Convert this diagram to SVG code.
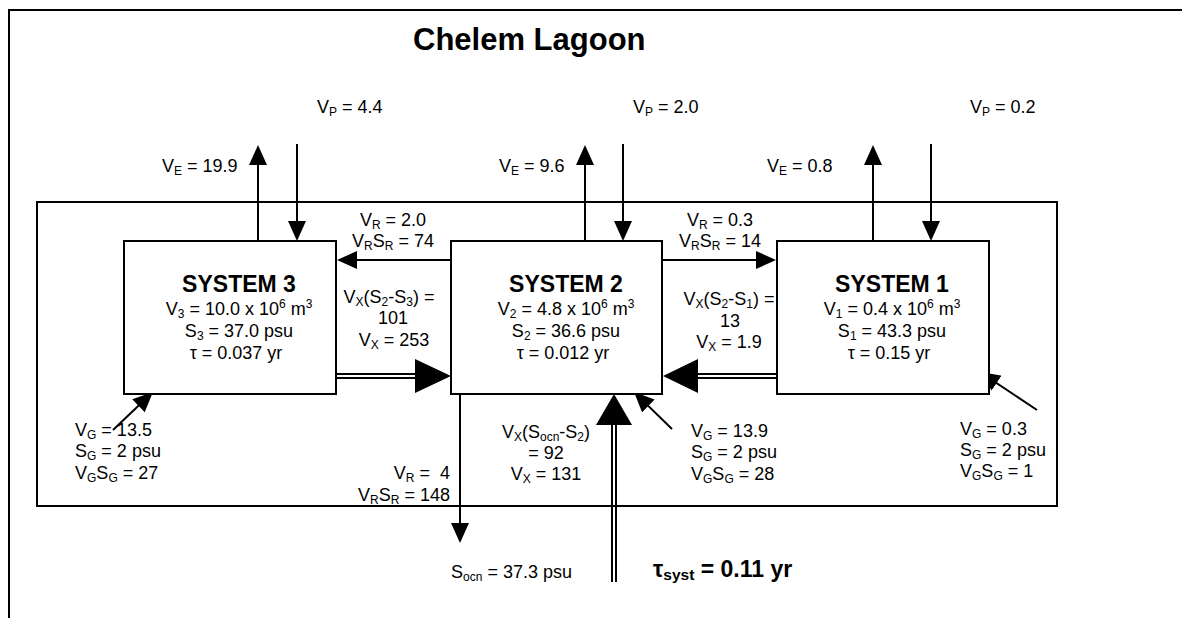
<svg xmlns="http://www.w3.org/2000/svg" width="1182" height="618" viewBox="0 0 1182 618">
<style>
text{font-family:"Liberation Sans",Arial,sans-serif;font-size:18px;fill:#000}
.t{font-size:31px;font-weight:bold}
.h{font-size:23px;font-weight:bold}
.s{font-size:12px}
.m{text-anchor:middle}
.e{text-anchor:end}
.box{fill:#fff;stroke:#000;stroke-width:2}
.fr{fill:none;stroke:#000;stroke-width:2}
.ar{fill:none;stroke:#000;stroke-width:2;marker-end:url(#ah)}
.dl{fill:none;stroke:#000;stroke-width:2}
.hd{fill:#000;stroke:none}
</style>
<defs>
<marker id="ah" viewBox="0 0 20 18" refX="17" refY="9" markerWidth="20" markerHeight="18" markerUnits="userSpaceOnUse" orient="auto"><path d="M0,0 L20,9 L0,18z" fill="#000"/></marker>
<clipPath id="cb"><rect x="0" y="0" width="1182" height="582"/></clipPath>
</defs>
<rect width="1182" height="618" fill="#fff"/>
<g id="frame">
<path class="fr" d="M9,618 V10 H1182"/>
</g>
<g id="title"><text class="t" x="413" y="50">Chelem Lagoon</text></g>
<g id="lagoon"><rect class="box" x="37" y="202" width="1020" height="304"/></g>
<g id="connectors">
<path class="ar" d="M258,241 V148"/>
<path class="ar" d="M297,144 V238"/>
<path class="ar" d="M585,241 V148"/>
<path class="ar" d="M623,144 V238"/>
<path class="ar" d="M873,241 V148"/>
<path class="ar" d="M931,144 V238"/>
<path class="ar" d="M451,260 H340"/>
<path class="ar" d="M662,260 H773"/>
<path class="ar" d="M460,394 V540"/>
<path class="ar" d="M113,430 L150.8,394.1"/>
<path class="ar" d="M672,429 L636.2,394.1"/>
<path class="ar" d="M1037,410 L982.5,373.7"/>
<path class="dl" d="M337,374 H416 M337,378 H416"/>
<polygon class="hd" points="415,359 451,376 415,393"/>
<path class="dl" d="M777,374 H697 M777,378 H697"/>
<polygon class="hd" points="698,359 663,376 698,393"/>
<path class="dl" d="M612,582 V424 M616,582 V424"/>
<polygon class="hd" points="596,425 614,394 632,425"/>
</g>
<g id="sys3">
<rect class="box" x="124" y="241" width="212" height="153"/>
<text class="h m" x="239" y="292">SYSTEM 3</text>
<text class="m" x="239" y="315">V<tspan class="s" dy="3">3</tspan><tspan dy="-3"> = 10.0 x 10</tspan><tspan class="s" dy="-7">6</tspan><tspan dy="7"> m</tspan><tspan class="s" dy="-7">3</tspan></text>
<text class="m" x="239" y="337">S<tspan class="s" dy="3">3</tspan><tspan dy="-3"> = 37.0 psu</tspan></text>
<text class="m" x="236" y="359">τ = 0.037 yr</text>
</g>
<g id="sys2">
<rect class="box" x="451" y="241" width="211" height="153"/>
<text class="h m" x="566" y="292">SYSTEM 2</text>
<text class="m" x="566" y="315">V<tspan class="s" dy="3">2</tspan><tspan dy="-3"> = 4.8 x 10</tspan><tspan class="s" dy="-7">6</tspan><tspan dy="7"> m</tspan><tspan class="s" dy="-7">3</tspan></text>
<text class="m" x="566" y="337">S<tspan class="s" dy="3">2</tspan><tspan dy="-3"> = 36.6 psu</tspan></text>
<text class="m" x="563" y="359">τ = 0.012 yr</text>
</g>
<g id="sys1">
<rect class="box" x="777" y="241" width="212" height="153"/>
<text class="h m" x="892" y="292">SYSTEM 1</text>
<text class="m" x="892" y="315">V<tspan class="s" dy="3">1</tspan><tspan dy="-3"> = 0.4 x 10</tspan><tspan class="s" dy="-7">6</tspan><tspan dy="7"> m</tspan><tspan class="s" dy="-7">3</tspan></text>
<text class="m" x="892" y="337">S<tspan class="s" dy="3">1</tspan><tspan dy="-3"> = 43.3 psu</tspan></text>
<text class="m" x="889" y="359">τ = 0.15 yr</text>
</g>
<g id="labels">
<text x="317" y="113">V<tspan class="s" dy="3">P</tspan><tspan dy="-3"> = 4.4</tspan></text>
<text x="162" y="172">V<tspan class="s" dy="3">E</tspan><tspan dy="-3"> = 19.9</tspan></text>
<text x="633" y="113">V<tspan class="s" dy="3">P</tspan><tspan dy="-3"> = 2.0</tspan></text>
<text x="499" y="172">V<tspan class="s" dy="3">E</tspan><tspan dy="-3"> = 9.6</tspan></text>
<text x="970" y="113">V<tspan class="s" dy="3">P</tspan><tspan dy="-3"> = 0.2</tspan></text>
<text x="767" y="172">V<tspan class="s" dy="3">E</tspan><tspan dy="-3"> = 0.8</tspan></text>
<text class="m" x="393" y="226">V<tspan class="s" dy="3">R</tspan><tspan dy="-3"> = 2.0</tspan></text>
<text class="m" x="393" y="247">V<tspan class="s" dy="3">R</tspan><tspan dy="-3">S</tspan><tspan class="s" dy="3">R</tspan><tspan dy="-3"> = 74</tspan></text>
<text class="m" x="720" y="226">V<tspan class="s" dy="3">R</tspan><tspan dy="-3"> = 0.3</tspan></text>
<text class="m" x="720" y="247">V<tspan class="s" dy="3">R</tspan><tspan dy="-3">S</tspan><tspan class="s" dy="3">R</tspan><tspan dy="-3"> = 14</tspan></text>
<text class="m" x="389" y="303">V<tspan class="s" dy="3">X</tspan><tspan dy="-3">(S</tspan><tspan class="s" dy="3">2</tspan><tspan dy="-3">-S</tspan><tspan class="s" dy="3">3</tspan><tspan dy="-3">) =</tspan></text>
<text class="m" x="393" y="324">101</text>
<text class="m" x="394" y="346">V<tspan class="s" dy="3">X</tspan><tspan dy="-3"> = 253</tspan></text>
<text class="m" x="729" y="305">V<tspan class="s" dy="3">X</tspan><tspan dy="-3">(S</tspan><tspan class="s" dy="3">2</tspan><tspan dy="-3">-S</tspan><tspan class="s" dy="3">1</tspan><tspan dy="-3">) =</tspan></text>
<text class="m" x="730" y="327">13</text>
<text class="m" x="729" y="348">V<tspan class="s" dy="3">X</tspan><tspan dy="-3"> = 1.9</tspan></text>
<text class="m" x="546" y="438">V<tspan class="s" dy="3">X</tspan><tspan dy="-3">(S</tspan><tspan class="s" dy="3">ocn</tspan><tspan dy="-3">-S</tspan><tspan class="s" dy="3">2</tspan><tspan dy="-3">)</tspan></text>
<text class="m" x="546" y="459">= 92</text>
<text class="m" x="546" y="480">V<tspan class="s" dy="3">X</tspan><tspan dy="-3"> = 131</tspan></text>
<text class="e" x="450" y="479" xml:space="preserve">V<tspan class="s" dy="3">R</tspan><tspan dy="-3"> =  4</tspan></text>
<text class="e" x="450" y="501">V<tspan class="s" dy="3">R</tspan><tspan dy="-3">S</tspan><tspan class="s" dy="3">R</tspan><tspan dy="-3"> = 148</tspan></text>
<text x="75" y="436">V<tspan class="s" dy="3">G</tspan><tspan dy="-3"> = 13.5</tspan></text>
<text x="75" y="457">S<tspan class="s" dy="3">G</tspan><tspan dy="-3"> = 2 psu</tspan></text>
<text x="75" y="479">V<tspan class="s" dy="3">G</tspan><tspan dy="-3">S</tspan><tspan class="s" dy="3">G</tspan><tspan dy="-3"> = 27</tspan></text>
<text x="691" y="437">V<tspan class="s" dy="3">G</tspan><tspan dy="-3"> = 13.9</tspan></text>
<text x="691" y="458">S<tspan class="s" dy="3">G</tspan><tspan dy="-3"> = 2 psu</tspan></text>
<text x="691" y="480">V<tspan class="s" dy="3">G</tspan><tspan dy="-3">S</tspan><tspan class="s" dy="3">G</tspan><tspan dy="-3"> = 28</tspan></text>
<text x="960" y="435">V<tspan class="s" dy="3">G</tspan><tspan dy="-3"> = 0.3</tspan></text>
<text x="960" y="456">S<tspan class="s" dy="3">G</tspan><tspan dy="-3"> = 2 psu</tspan></text>
<text x="960" y="477">V<tspan class="s" dy="3">G</tspan><tspan dy="-3">S</tspan><tspan class="s" dy="3">G</tspan><tspan dy="-3"> = 1</tspan></text>
<g clip-path="url(#cb)">
<text x="451" y="578">S<tspan class="s" dy="3">ocn</tspan><tspan dy="-3"> = 37.3 psu</tspan></text>
</g>
<text class="h" x="653" y="577">τ<tspan font-size="15.5px" dy="3">syst</tspan><tspan dy="-3"> = 0.11 yr</tspan></text>
</g>
</svg>
